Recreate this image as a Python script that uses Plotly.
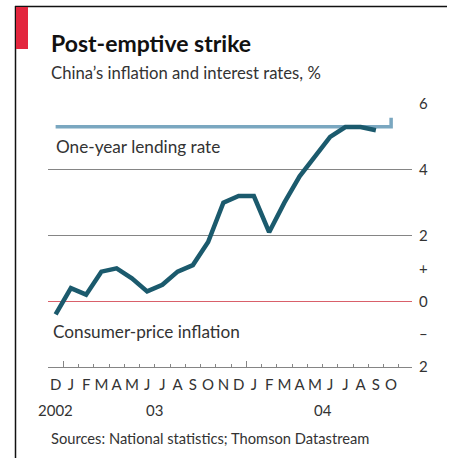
import plotly.graph_objects as go

# ---- data ----
months = ["D", "J", "F", "M", "A", "M", "J", "J", "A", "S", "O", "N",
          "D", "J", "F", "M", "A", "M", "J", "J", "A", "S", "O"]  # Dec 2002 .. Oct 2004
inflation = [-0.4, 0.4, 0.2, 0.9, 1.0, 0.7, 0.3, 0.5, 0.9, 1.1, 1.8, 3.0,
             3.2, 3.2, 2.1, 3.0, 3.8, 4.4, 5.0, 5.3, 5.3, 5.2]      # Dec 2002 .. Sep 2004
lending = [5.31] * 22 + [5.58]                                       # Dec 2002 .. Oct 2004
year_labels = ["2002", "03", "04"]
year_spans = [(0, 1), (1, 13), (13, 23)]   # month-index spans shown per year
y_ticks = [-2, 0, 2, 4, 6]
y_ticktext = ["2", "0", "2", "4", "6"]
sign_ticks = [-1, 1]
sign_text = ["–", "+"]

# ---- layout geometry ----
W, H = 454, 458
L, R, T, B = 48, 42, 104, 91
PW, PH = W - L - R, H - T - B
MONTH_PX = 15.25
x_max = PW / MONTH_PX

def px(xp):
    return (xp - L) / PW

def py(yp):
    return (H - B - yp) / PH

FONT = "Lato"
TXT = "#333333"

x_c = [i + 0.5 for i in range(len(months))]

fig = go.Figure()
fig.add_trace(go.Scatter(
    x=x_c[:len(lending)], y=lending, mode="lines", line_shape="hv",
    line=dict(color="#7aa7c0", width=3.5), hoverinfo="skip", showlegend=False))
fig.add_trace(go.Scatter(
    x=x_c[:len(inflation)], y=inflation, mode="lines",
    line=dict(color="#1b5a6d", width=4.5), hoverinfo="skip", showlegend=False))
# invisible trace for month-label axis
fig.add_trace(go.Scatter(x=[0, x_max], y=[None, None], xaxis="x2", yaxis="y2",
                         mode="lines", showlegend=False, hoverinfo="skip"))

fig.update_layout(
    width=W, height=H, margin=dict(l=L, r=R, t=T, b=B),
    paper_bgcolor="white", plot_bgcolor="white", showlegend=False,
    xaxis=dict(range=[0, x_max], showgrid=False, zeroline=False,
               showline=True, linecolor="#858585", linewidth=1.3,
               tickvals=[1, 13], ticks="inside", ticklen=6, tickwidth=1,
               tickcolor="#858585", showticklabels=False,
               minor=dict(tick0=0, dtick=1, ticks="inside", ticklen=3,
                          tickwidth=1, tickcolor="#858585")),
    xaxis2=dict(range=[0, x_max], overlaying="x", anchor="y", side="bottom",
                showgrid=False, zeroline=False, showline=False,
                tickvals=x_c, ticktext=months, ticks="", ticklabelstandoff=7,
                tickfont=dict(family=FONT, size=15, color=TXT)),
    yaxis=dict(range=[-2, 6], side="right", tickvals=y_ticks, ticktext=y_ticktext,
               showgrid=True, gridcolor="#858585", gridwidth=1.3,
               zeroline=True, zerolinecolor="#d9606a", zerolinewidth=1.3,
               ticks="", ticklabelstandoff=6,
               tickfont=dict(family=FONT, size=15, color=TXT)),
    yaxis2=dict(range=[-2, 6], overlaying="y", side="right", anchor="x",
                tickvals=sign_ticks, ticktext=sign_text, showgrid=False,
                zeroline=False, ticks="", ticklabelstandoff=6,
                tickfont=dict(family=FONT, size=15, color=TXT)),
)

ann = []
# year labels centered over the displayed span of each year
for lab, (a, b) in zip(year_labels, year_spans):
    ann.append(dict(x=(a + b) / 2, y=py(410), xref="x", yref="paper", text=lab,
                    showarrow=False, xanchor="center", yanchor="middle",
                    font=dict(family=FONT, size=15, color=TXT)))
ann += [
    dict(x=px(49), y=py(43), xref="paper", yref="paper", text="<b>Post-emptive strike</b>",
         showarrow=False, xanchor="left", yanchor="middle",
         font=dict(family=FONT, size=23, color="#111111")),
    dict(x=px(49), y=py(73), xref="paper", yref="paper",
         text="China’s inflation and interest rates, %",
         showarrow=False, xanchor="left", yanchor="middle",
         font=dict(family=FONT, size=16.7, color=TXT)),
    dict(x=px(54), y=py(146), xref="paper", yref="paper", text="One-year lending rate",
         showarrow=False, xanchor="left", yanchor="middle",
         font=dict(family=FONT, size=17.2, color=TXT)),
    dict(x=px(51), y=py(331), xref="paper", yref="paper", text="Consumer-price inflation",
         showarrow=False, xanchor="left", yanchor="middle",
         font=dict(family=FONT, size=17.2, color=TXT)),
    dict(x=px(49), y=py(438), xref="paper", yref="paper",
         text="Sources: National statistics; Thomson Datastream",
         showarrow=False, xanchor="left", yanchor="middle",
         font=dict(family=FONT, size=14.7, color=TXT)),
]
fig.update_layout(annotations=ann)

shapes = [
    # frame: top and left
    dict(type="line", xref="paper", yref="paper", x0=px(15), x1=px(447), y0=py(6.5), y1=py(6.5),
         line=dict(color="#111111", width=1.5)),
    dict(type="line", xref="paper", yref="paper", x0=px(15.5), x1=px(15.5), y0=py(6), y1=py(458),
         line=dict(color="#111111", width=1.5)),
    # red tag
    dict(type="rect", xref="paper", yref="paper", x0=px(16), x1=px(28), y0=py(7), y1=py(49),
         fillcolor="#e3263e", line=dict(width=0)),
]
fig.update_layout(shapes=shapes)

fig.write_html("out.html")
